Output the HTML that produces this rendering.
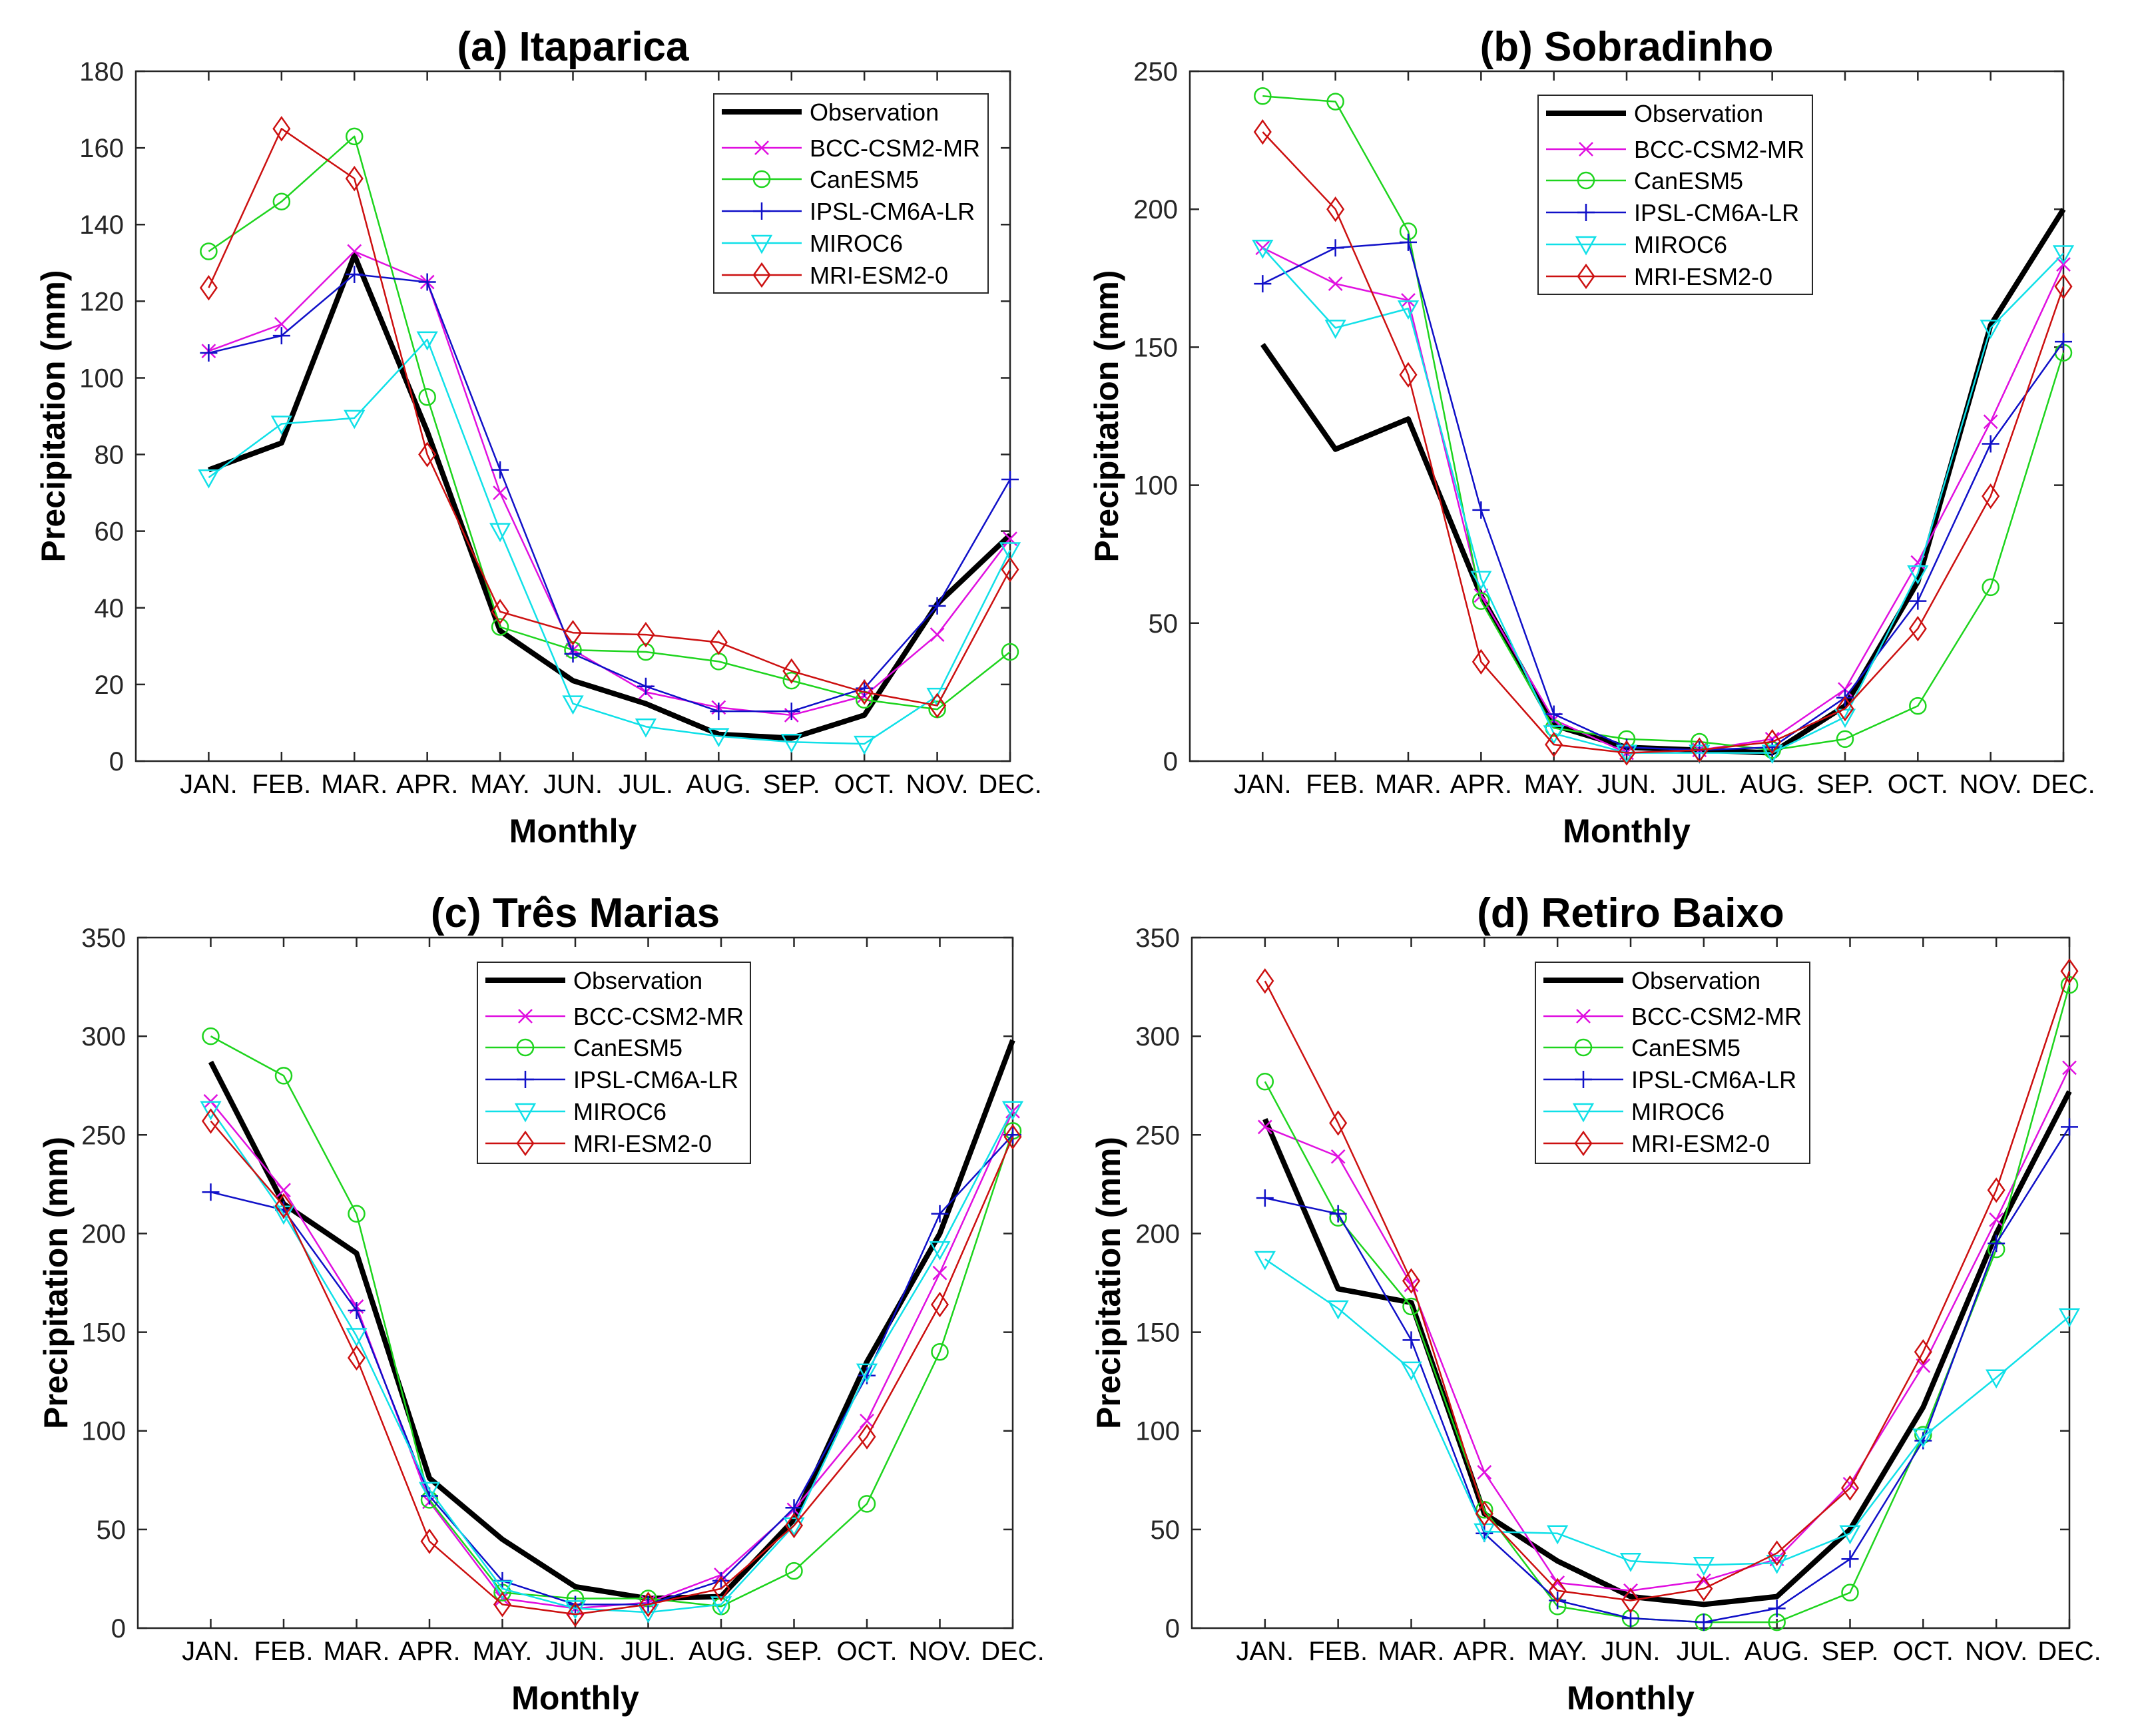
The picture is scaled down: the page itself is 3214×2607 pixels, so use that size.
<!DOCTYPE html>
<html><head><meta charset="utf-8">
<style>
html,body{margin:0;padding:0;background:#fff;}
svg{display:block;}
text{font-family:"Liberation Sans",Arial,sans-serif;}
</style></head>
<body>
<svg id="fig" width="3214" height="2607" viewBox="0 0 3214 2607" xmlns="http://www.w3.org/2000/svg"></svg>
<script>
const months = ["JAN.","FEB.","MAR.","APR.","MAY.","JUN.","JUL.","AUG.","SEP.","OCT.","NOV.","DEC."];
const seriesNames = ["Observation","BCC-CSM2-MR","CanESM5","IPSL-CM6A-LR","MIROC6","MRI-ESM2-0"];

const obsA  = [76,83,132,86,34,21,15,7,6,12,41,59];
const bccA  = [107,114,133,125,70,29,18,14,12,17,33,58];
const canA  = [133,146,163,95,35,29,28.5,26,21,16,13.5,28.5];
const ipslA = [106.5,111,127,125,76,28,19.5,13,13,19,40.5,73.5];
const mirA  = [74,88,89.5,110,60,15,9,6.5,5,4.5,17,55];
const mriA  = [123.5,165,152,80,39,33.5,33,31,23.5,18,14.5,50];

const obsB  = [151,113,124,60,13,5,4,3,20,65,158,200];
const bccB  = [186,173,167,60,15,3,4,8,26,72,123,180];
const canB  = [241,239,192,58,12,8,7,4,8,20,63,148];
const ipslB = [173,186,188,91,17,5,4,5,23,58,115,152];
const mirB  = [186,157,164,66,10,3,3,3,16,68,157,184];
const mriB  = [228,200,140,36,6,3,4,7,19,48,96,172];

const obsC  = [287,215,190,76,45,21,15,16,55,135,200,298];
const bccC  = [267,222,163,64,15,10,13,27,60,105,180,262];
const canC  = [300,280,210,65,18,15,15,11,29,63,140,252];
const ipslC = [221,212,161,67,24,12,12,24,61,128,210,250];
const mirC  = [263,210,148,70,20,10,8,12,52,130,192,263];
const mriC  = [257,214,137,44,12,7,12,20,52,97,164,249];

const obsD  = [258,172,165,58,34,16,12,16,50,112,200,272];
const bccD  = [254,239,174,79,23,19,24,35,73,133,207,284];
const canD  = [277,208,163,60,11,5,3,3,18,98,192,326];
const ipslD = [218,210,146,48,14,5,3,10,35,95,195,254];
const mirD  = [187,162,131,49,48,34,32,33,48,97,127,158];
const mriD  = [328,256,176,58,19,14,20,38,71,140,222,333];

const ticksA = [0,20,40,60,80,100,120,140,160,180];
const ticksB = [0,50,100,150,200,250];
const ticksC = [0,50,100,150,200,250,300,350];
const ticksD = [0,50,100,150,200,250,300,350];

const titles = ["(a) Itaparica","(b) Sobradinho","(c) Três Marias","(d) Retiro Baixo"];

const NS = "http://www.w3.org/2000/svg";
const svg = document.getElementById("fig");
function mk(tag, attrs, parent){
  const e = document.createElementNS(NS, tag);
  for (const k in attrs) e.setAttribute(k, attrs[k]);
  (parent||svg).appendChild(e);
  return e;
}
const styles = [
  {color:"#000000", w:8, marker:"none"},
  {color:"#e010e0", w:2.5, marker:"x"},
  {color:"#1ed41e", w:2.5, marker:"o"},
  {color:"#1010c8", w:2.5, marker:"+"},
  {color:"#10e0e8", w:2.5, marker:"v"},
  {color:"#cc1010", w:2.5, marker:"d"}
];
function marker(g, type, x, y, color){
  const a = {fill:"none", stroke:color, "stroke-width":2.5};
  let m = null;
  if (type==="o") m = mk("circle", Object.assign({cx:x, cy:y, r:12}, a), g);
  else if (type==="x") m = mk("path", Object.assign({d:`M${x-10},${y-10}L${x+10},${y+10}M${x-10},${y+10}L${x+10},${y-10}`}, a), g);
  else if (type==="+") m = mk("path", Object.assign({d:`M${x-13},${y}L${x+13},${y}M${x},${y-13}L${x},${y+13}`}, a), g);
  else if (type==="v") m = mk("path", Object.assign({d:`M${x-14},${y-11}L${x+14},${y-11}L${x},${y+14}Z`}, a), g);
  else if (type==="d") m = mk("path", Object.assign({d:`M${x},${y-17}L${x+12},${y}L${x},${y+17}L${x-12},${y}Z`}, a), g);
  if (m) {
    
    
  }
}
const panels = [
  {key:"a", L:204, R:1517, T:107, B:1143, ymax:180, ticks:ticksA, data:[obsA,bccA,canA,ipslA,mirA,mriA], leg:[1072,141,412,299], ylx:80},
  {key:"b", L:1787, R:3099, T:107, B:1143, ymax:250, ticks:ticksB, data:[obsB,bccB,canB,ipslB,mirB,mriB], leg:[2310,143,412,299], ylx:1662},
  {key:"c", L:207, R:1521, T:1408, B:2445, ymax:350, ticks:ticksC, data:[obsC,bccC,canC,ipslC,mirC,mriC], leg:[717,1445,410,302], ylx:84},
  {key:"d", L:1790, R:3108, T:1408, B:2445, ymax:350, ticks:ticksD, data:[obsD,bccD,canD,ipslD,mirD,mriD], leg:[2306,1445,412,302], ylx:1665}
];
panels.forEach((p, pi) => {
  const g = mk("g", {});
  
  
  const xs = i => p.L + (i+1) * (p.R - p.L) / 12;
  const ys = v => p.B - v / p.ymax * (p.B - p.T);
  const cx = (p.L + p.R) / 2;
  // title
  const t = mk("text", {x:cx, y:p.T-16, "text-anchor":"middle", "font-size":62, "font-weight":"bold", fill:"#000"}, g);
  t.textContent = titles[pi];
  
  
  // axes box
  const box = mk("rect", {x:p.L, y:p.T, width:p.R-p.L, height:p.B-p.T, fill:"none", stroke:"#262626", "stroke-width":2.5}, g);
  
  
  // y ticks
  p.ticks.forEach(v => {
    const y = ys(v);
    const tk = mk("path", {d:`M${p.L},${y}H${p.L+14}M${p.R},${y}H${p.R-14}`, stroke:"#262626", "stroke-width":2.5}, g);
    
    
    const lb = mk("text", {x:p.L-18, y:y+14, "text-anchor":"end", "font-size":40, fill:"#262626"}, g);
    lb.textContent = v;
    
    
  });
  // x ticks
  months.forEach((m, i) => {
    const x = xs(i);
    const tk = mk("path", {d:`M${x},${p.B}V${p.B-14}M${x},${p.T}V${p.T+14}`, stroke:"#262626", "stroke-width":2.5}, g);
    
    
    const lb = mk("text", {x:x, y:p.B+48, "text-anchor":"middle", "font-size":40, fill:"#000"}, g);
    lb.textContent = m;
    
    
  });
  // axis titles
  const xl = mk("text", {x:cx, y:p.B+122, "text-anchor":"middle", "font-size":50, "font-weight":"bold", fill:"#000"}, g);
  xl.textContent = "Monthly";
  
  
  const ym = (p.T + p.B) / 2;
  const yl = mk("text", {x:p.ylx, y:ym, "text-anchor":"middle", "font-size":50, "font-weight":"bold", fill:"#000", transform:`rotate(-90 ${p.ylx} ${ym})`, dy:17}, g);
  yl.textContent = "Precipitation (mm)";
  
  
  // series (models first, obs on top? draw obs first like matlab order)
  p.data.forEach((arr, si) => {
    const st = styles[si];
    const sg = mk("g", {}, g);
    
    
    const d = arr.map((v, i) => (i ? "L" : "M") + xs(i) + "," + ys(v)).join("");
    const ln = mk("path", {d:d, fill:"none", stroke:st.color, "stroke-width":st.w, "stroke-linejoin":"round"}, sg);
    
    
    arr.forEach((v, i) => marker(sg, st.marker, xs(i), ys(v), st.color));
  });
  // legend
  const [lx, ly, lw, lh] = p.leg;
  const lg = mk("g", {}, g);
  
  
  const lr = mk("rect", {x:lx, y:ly, width:lw, height:lh, fill:"#fff", stroke:"#262626", "stroke-width":2}, lg);
  
  
  const rowY = [27, 81, 128, 176, 224, 272];
  seriesNames.forEach((n, si) => {
    const st = styles[si];
    const ry = ly + rowY[si];
    const eg = mk("g", {}, lg);
    
    
    mk("path", {d:`M${lx+12},${ry}H${lx+132}`, stroke:st.color, "stroke-width":st.w}, eg);
    marker(eg, st.marker, lx+72, ry, st.color);
    const tx = mk("text", {x:lx+144, y:ry+13, "font-size":36, fill:"#000"}, eg);
    tx.textContent = n;
    
    
  });
});
</script>
</body></html>
